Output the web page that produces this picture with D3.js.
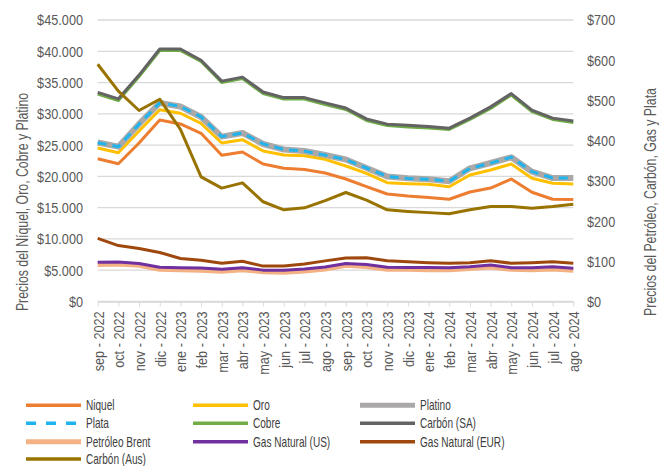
<!DOCTYPE html>
<html>
<head>
<meta charset="utf-8">
<script src="https://cdn.jsdelivr.net/npm/d3@7"></script>
<style>
  body { margin: 0; background: #fff; }
  svg { font-family: "Liberation Sans", Arial, sans-serif; }
</style>
</head>
<body>
<svg id="chart" width="665" height="466"></svg>
<script>
const width = 665;
const height = 466;

const months = ["sep - 2022", "oct - 2022", "nov - 2022", "dic - 2022", "ene - 2023", "feb - 2023",
    "mar - 2023", "abr - 2023", "may - 2023", "jun - 2023", "jul - 2023", "ago - 2023",
    "sep - 2023", "oct - 2023", "nov - 2023", "dic - 2023", "ene - 2024", "feb - 2024",
    "mar - 2024", "abr - 2024", "may - 2024", "jun - 2024", "jul - 2024", "ago - 2024"];

// left axis (USD/t)
const niquel = [22830, 22030, 25340, 29010, 28380, 26890, 23370, 23900, 21980, 21290, 21100, 20540,
    19580, 18350, 17190, 16870, 16630, 16340, 17510, 18140, 19580, 17460, 16350, 16310];
const oro = [24540, 23790, 27260, 30660, 30090, 28460, 25340, 25870, 24060, 23420, 23310, 22730,
    21660, 20490, 18990, 18830, 18740, 18350, 20220, 21020, 21980, 19700, 18900, 18780];
const platino = [25420, 24750, 28380, 31730, 31170, 29490, 26350, 26940, 25180, 24300, 24060, 23420,
    22700, 21340, 19980, 19700, 19540, 19220, 21290, 22140, 23050, 20750, 19740, 19740];
const cobre = [33170, 32130, 35970, 40130, 40130, 38370, 35010, 35650, 33250, 32370, 32370, 31490,
    30690, 28940, 28140, 27900, 27740, 27500, 29100, 30850, 33010, 30370, 29100, 28620];

// right axis
const plata = [395, 385, 441, 494, 485, 459, 410, 419, 392, 378, 374, 364,
    353, 332, 311, 306, 304, 299, 331, 344, 359, 323, 307, 307];
const carbonSA = [520, 504, 563, 628, 628, 600, 548, 558, 521, 507, 507, 494,
    481, 454, 441, 438, 435, 431, 456, 484, 517, 476, 456, 449];
const brent = [92, 93, 90, 80, 79, 78, 75, 79, 74, 73, 76, 81,
    90, 87, 80, 80, 79, 79, 82, 86, 80, 79, 81, 78];
const gasUS = [97.5, 98, 94.5, 85, 84, 83, 80, 84, 78, 77.5, 81, 86,
    94.5, 92, 85, 84.5, 84.3, 84, 86.5, 91, 84, 84, 86.5, 82.5];
const gasEUR = [157, 139, 132, 122, 107, 102.5, 95, 100, 88, 88, 93, 101,
    108, 109, 101.5, 99, 96.5, 95, 96.5, 101.5, 95, 96.5, 99, 95];
const carbonAus = [590, 523, 475, 503, 428, 310, 282, 295, 248, 228, 233, 251,
    271, 252, 228, 224, 221, 218, 228, 236, 236, 232, 236, 242];

const series = [
    { name: "Niquel", values: niquel, axis: "L", color: "#ED7D31", w: 3 },
    { name: "Oro", values: oro, axis: "L", color: "#FFC000", w: 3 },
    { name: "Platino", values: platino, axis: "L", color: "#ABA9A8", w: 6 },
    { name: "Plata", values: plata, axis: "R", color: "#1FB4EE", w: 3, dash: "9,6" },
    { name: "Cobre", values: cobre, axis: "L", color: "#70AD47", w: 3 },
    { name: "Carbón (SA)", values: carbonSA, axis: "R", color: "#636363", w: 3 },
    { name: "Petróleo Brent", values: brent, axis: "R", color: "#F4B183", w: 5 },
    { name: "Gas Natural (US)", values: gasUS, axis: "R", color: "#7030A0", w: 3 },
    { name: "Gas Natural (EUR)", values: gasEUR, axis: "R", color: "#9E480E", w: 3 },
    { name: "Carbón (Aus)", values: carbonAus, axis: "R", color: "#997300", w: 3 }
];

const plot = { left: 97.7, right: 573.3, top: 20, bottom: 301.5 };

const x = d3.scalePoint().domain(months).range([plot.left, plot.right]);
const yL = d3.scaleLinear().domain([0, 45000]).range([plot.bottom, plot.top]);
const yR = d3.scaleLinear().domain([0, 700]).range([plot.bottom, plot.top]);

const money = d => "$" + d3.format(",")(d).replace(/,/g, ".");
// the source uses a condensed face; squeeze the regular one sideways
const narrow = 0.82;

const svg = d3.select("#chart");

// gridlines
svg.append("g")
    .selectAll("line").data(yL.ticks(9)).enter()
    .append("line")
    .attr("x1", plot.left)
    .attr("x2", plot.right)
    .attr("y1", d => yL(d))
    .attr("y2", d => yL(d))
    .attr("stroke", "#d9d9d9")
    .attr("stroke-width", 1.3);

// left axis labels
svg.append("g")
    .selectAll("text").data(yL.ticks(9)).enter()
    .append("text")
    .attr("transform", d => "translate(83," + yL(d) + ") scale(" + narrow + ",1)")
    .attr("dy", "0.35em")
    .attr("text-anchor", "end")
    .attr("font-size", 15.5)
    .attr("fill", "#595959")
    .text(money);

// right axis labels
svg.append("g")
    .selectAll("text").data(yR.ticks(7)).enter()
    .append("text")
    .attr("transform", d => "translate(587," + yR(d) + ") scale(" + narrow + ",1)")
    .attr("dy", "0.35em")
    .attr("font-size", 15.5)
    .attr("fill", "#595959")
    .text(money);

// x axis
const xAxis = svg.append("g")
    .attr("transform", "translate(0," + plot.bottom + ")")
    .call(d3.axisBottom(x).tickSize(5).tickSizeOuter(0));
xAxis.select(".domain").attr("stroke", "#d9d9d9").attr("stroke-width", 1.3);
xAxis.selectAll(".tick line").attr("stroke", "#d9d9d9");
xAxis.selectAll(".tick text")
    .attr("font-family", "Liberation Sans, Arial, sans-serif")
    .attr("font-size", 15.5)
    .attr("fill", "#595959")
    .attr("text-anchor", "end")
    .attr("transform", "rotate(-90) scale(" + narrow + ",1)")
    .attr("x", -12)
    .attr("y", 0)
    .attr("dy", "0.35em");

// axis titles
svg.append("text")
    .attr("transform", "translate(27.5,202) rotate(-90) scale(0.77,1)")
    .attr("text-anchor", "middle")
    .attr("font-size", 16)
    .attr("fill", "#595959")
    .text("Precios del Níquel, Oro, Cobre y Platino");

svg.append("text")
    .attr("transform", "translate(656,202) rotate(-90) scale(0.77,1)")
    .attr("text-anchor", "middle")
    .attr("font-size", 16)
    .attr("fill", "#595959")
    .text("Precios del Petróleo, Carbón, Gas y Plata");

// lines
const lines = svg.append("g");
series.forEach(s => {
    const y = s.axis === "L" ? yL : yR;
    const line = d3.line()
        .x((d, i) => x(months[i]))
        .y(d => y(d));
    lines.append("path")
        .datum(s.values)
        .attr("d", line)
        .attr("fill", "none")
        .attr("stroke", s.color)
        .attr("stroke-width", s.w)
        .attr("stroke-linejoin", "round")
        .attr("stroke-dasharray", s.dash || null);
});

// legend
const legendCols = [26, 193, 360];
const legendRows = [405.3, 423.3, 441.7, 459];
const legend = svg.append("g");
const items = legend.selectAll("g").data(series).enter()
    .append("g")
    .attr("transform", (d, i) => "translate(" + legendCols[i % 3] + "," + legendRows[Math.floor(i / 3)] + ")");
items.append("line")
    .attr("x1", 0)
    .attr("x2", 55)
    .attr("stroke", d => d.color)
    .attr("stroke-width", d => d.w > 3 ? 5 : 3.5)
    .attr("stroke-dasharray", d => d.dash ? "10,10" : null);
items.append("text")
    .attr("transform", "translate(60,0) scale(0.72,1)")
    .attr("dy", "0.35em")
    .attr("font-size", 14)
    .attr("fill", "#404040")
    .text(d => d.name);
</script>
</body>
</html>
